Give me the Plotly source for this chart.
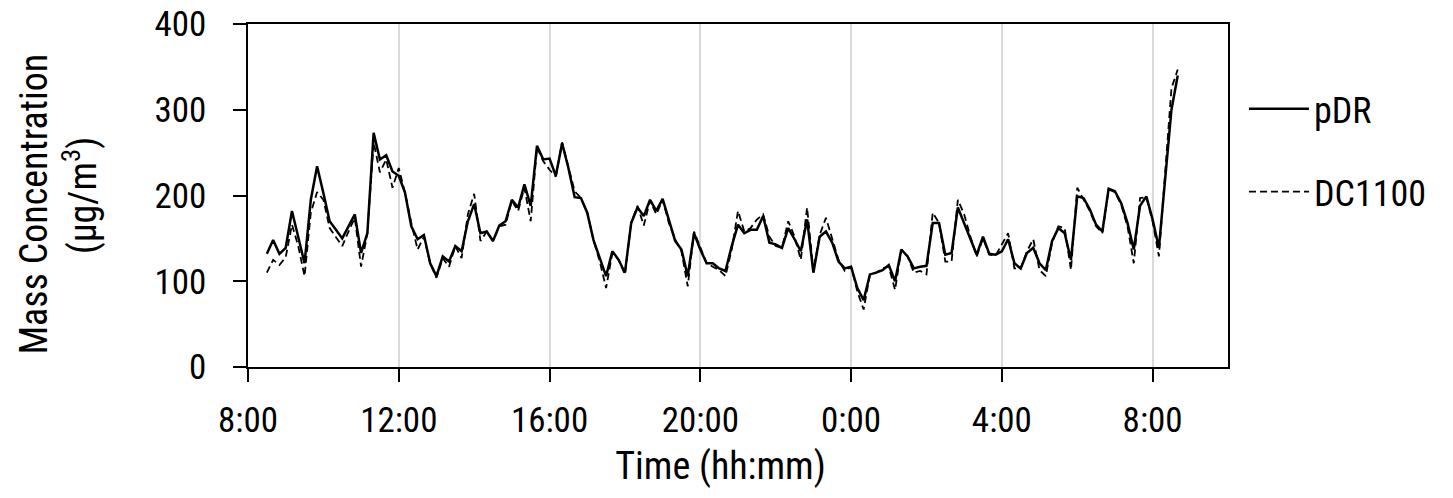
import pandas as pd
import plotly.graph_objects as go

start_time = "2017-01-01 08:30"
step = "10min"

pdr = [132, 148, 132, 139, 182, 152, 121, 195, 234, 203, 170, 160, 150, 164, 178, 133, 156, 273,
       242, 247, 228, 223, 203, 164, 149, 154, 121, 106, 129, 123, 141, 135, 170, 190, 156, 158,
       147, 165, 170, 195, 186, 213, 188, 258, 242, 243, 223, 261, 232, 198, 197, 180, 148, 127,
       106, 135, 125, 110, 168, 186, 176, 195, 182, 196, 172, 147, 137, 106, 156, 137, 121, 121,
       115, 112, 141, 166, 156, 160, 160, 176, 145, 143, 139, 162, 149, 135, 172, 110, 152, 158,
       145, 123, 115, 117, 92, 78, 108, 110, 113, 119, 100, 137, 129, 115, 117, 118, 168, 168,
       131, 133, 186, 168, 149, 131, 152, 132, 131, 135, 149, 121, 115, 133, 139, 121, 113, 147,
       162, 156, 125, 199, 197, 184, 166, 158, 208, 205, 191, 168, 137, 188, 199, 172, 139, 222,
       300, 340]

dc1100 = [110, 125, 119, 128, 166, 141, 106, 180, 204, 195, 162, 152, 141, 158, 174, 117, 156, 262,
          227, 242, 209, 232, 203, 168, 137, 152, 121, 104, 127, 117, 141, 127, 178, 202, 147, 158,
          147, 164, 166, 194, 182, 209, 170, 256, 240, 230, 222, 262, 234, 205, 197, 180, 148, 123,
          92, 133, 125, 108, 168, 188, 165, 194, 178, 195, 168, 149, 135, 94, 158, 139, 121, 117,
          113, 106, 137, 182, 158, 162, 172, 178, 152, 141, 139, 170, 152, 125, 186, 112, 154, 174,
          149, 125, 112, 117, 88, 67, 108, 110, 115, 117, 90, 137, 129, 110, 112, 108, 180, 168,
          123, 123, 195, 178, 152, 129, 150, 131, 130, 143, 156, 115, 115, 135, 149, 113, 106, 145,
          164, 162, 113, 209, 196, 182, 164, 156, 207, 204, 189, 164, 121, 197, 198, 170, 129, 230,
          325, 347]

t_pdr = pd.date_range(start_time, periods=len(pdr), freq=step)
t_dc = pd.date_range(start_time, periods=len(dc1100), freq=step)

x_range = ["2017-01-01 08:00", "2017-01-02 10:00"]
FONT = "Roboto Condensed, Liberation Sans Narrow, DejaVu Sans Condensed, Liberation Sans, sans-serif"
NB = "\u00a0"
ZW = "\u200b"

fig = go.Figure()
fig.add_trace(go.Scatter(x=t_pdr, y=pdr, mode="lines", name="pDR",
                         line=dict(color="black", width=2.5), legendgroup="a"))
fig.add_trace(go.Scatter(x=t_dc, y=dc1100, mode="lines", name="DC1100",
                         line=dict(color="black", width=1.8, dash="7px,4px"), legendgroup="b"))

fig.update_layout(
    width=1453, height=498,
    margin=dict(l=240, r=233, t=16, b=139),
    paper_bgcolor="white", plot_bgcolor="white",
    font=dict(family=FONT, size=35, color="black"),
    showlegend=True,
    legend=dict(x=1.0163, xanchor="left", y=0.84, yanchor="top",
                traceorder="grouped", tracegroupgap=33, itemwidth=60,
                font=dict(size=36), bgcolor="rgba(0,0,0,0)"),
    xaxis=dict(type="date", range=x_range, automargin=False,
               tick0="2017-01-01 08:00", dtick=4 * 3600 * 1000,
               tickformat="%-H:%M", ticklabeloverflow="allow",
               ticks="outside", ticklen=13, tickwidth=1.5, tickcolor="black",
               showline=True, linecolor="black", linewidth=1.5, mirror=True,
               showgrid=True, gridcolor="#d9d9d9", gridwidth=1.5,
               zeroline=False, ticklabelstandoff=8,
               title=dict(text="Time (hh:mm)" + NB * 4 + ZW, standoff=13, font=dict(size=38))),
    xaxis2=dict(type="date", range=x_range, overlaying="x", anchor="y", side="bottom",
                tick0="2017-01-01 08:00", dtick=3600 * 1000, automargin=False,
                ticks="inside", ticklen=10, tickwidth=1.5, tickcolor="black",
                showticklabels=False, showline=False, showgrid=False, zeroline=False),
    yaxis=dict(range=[0, 400], dtick=100, automargin=False,
               ticks="outside", ticklen=13, tickwidth=1.5, tickcolor="black",
               showline=True, linecolor="black", linewidth=1.5, mirror=True,
               showgrid=False, zeroline=False, ticklabelstandoff=20,
               ticklabeloverflow="allow",
               title=dict(text="Mass Concentration" + NB * 2 + "<br>(μg/m<sup>3</sup>)",
                          standoff=46, font=dict(size=38))),
    yaxis2=dict(range=[0, 400], overlaying="y", anchor="x", side="left", dtick=20,
                automargin=False,
                ticks="inside", ticklen=10, tickwidth=1.5, tickcolor="black",
                showticklabels=False, showline=False, showgrid=False, zeroline=False),
)

fig.write_html("out.html")
